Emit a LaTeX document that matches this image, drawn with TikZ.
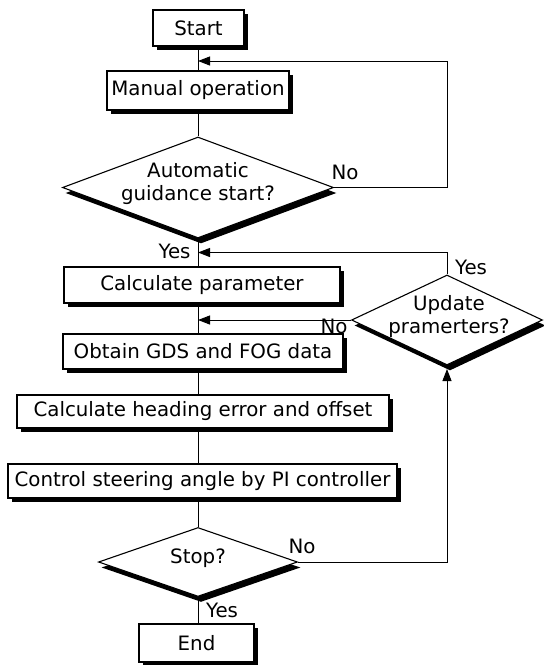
\documentclass[tikz,border=0pt]{standalone}
\usepackage{fontspec}
\setmainfont{DejaVu Sans}
\usetikzlibrary{shapes.geometric,shadows,arrows.meta}
\begin{document}
\begin{tikzpicture}[x=1pt,y=-1pt,
  font=\fontsize{19.8}{23}\selectfont,
  shad/.style={drop shadow={shadow xshift=3.5pt,shadow yshift=-3.5pt,fill=black,opacity=1}},
  dshad/.style={drop shadow={shadow xshift=3pt,shadow yshift=-5.5pt,fill=black,opacity=1}},
  stepbox/.style={draw=black,line width=1.2pt,fill=white,rectangle,inner sep=0pt,shad},
  decision/.style={draw=black,line width=1.1pt,fill=white,diamond,inner sep=0pt,dshad},
  dtext/.style={align=center,inner sep=0pt},
  lbl/.style={inner sep=0pt},
  conn/.style={line width=1pt},
  arr/.style={line width=1pt,-{Triangle[length=12pt,width=9pt]}}]
\useasboundingbox (0,0) rectangle (544,665);
\fill[white] (0,0) rectangle (544,665);
\coordinate (m) at (198,0);
% boxes
\node[stepbox,minimum width=91pt,minimum height=36pt] (start) at (198.5,28) {Start};
\node[stepbox,minimum width=182pt,minimum height=39pt] (manual) at (198,90.5) {Manual operation};
\node[decision,minimum width=271pt,minimum height=101pt] (d1) at (198,187.5) {};
\node[dtext] (d1t) at (198,183.5) {Automatic\\guidance start?};
\node[stepbox,minimum width=276pt,minimum height=36pt] (calc) at (202,285) {Calculate parameter};
\node[decision,minimum width=191pt,minimum height=90pt] (d2) at (447,320) {};
\node[dtext] (d2t) at (449,316.5) {Update\\pramerters?};
\node[stepbox,minimum width=280pt,minimum height=35pt] (obtain) at (203,351.5) {Obtain GDS and FOG data};
\node[stepbox,minimum width=372pt,minimum height=33pt] (heading) at (203,411.5) {Calculate heading error and offset};
\node[stepbox,minimum width=389pt,minimum height=34pt] (control) at (202.5,481) {Control steering angle by PI controller};
\node[decision,minimum width=199pt,minimum height=69pt] (stop) at (198,562) {};
\node[dtext] (stopt) at (198,558) {Stop?};
\node[stepbox,minimum width=115pt,minimum height=38pt] (end) at (196.5,643) {End};
% main line
\draw[conn] (start.south -| m) -- (manual.north -| m);
\draw[conn] (manual.south -| m) -- (d1.north);
\draw[conn] (d1.south) -- (calc.north -| m);
\draw[conn] (calc.south -| m) -- (obtain.north -| m);
\draw[conn] (obtain.south -| m) -- (heading.north -| m);
\draw[conn] (heading.south -| m) -- (control.north -| m);
\draw[conn] (control.south -| m) -- (stop.north);
\draw[conn] (stop.south) -- (end.north -| m);
% loops
\coordinate (j1) at (198,61);
\coordinate (c1) at (447.7,61);
\draw[arr] (d1.east) -| (c1) -- (j1);
\coordinate (j2) at (198,252.5);
\draw[arr] (d2.north) |- (j2);
\coordinate (j3) at (198,320);
\draw[arr] (d2.west) -- (j3);
\coordinate (j4) at (447,369);
\coordinate (c4) at (447,562);
\draw[arr] (stop.east) -- (c4) -- (j4);
% labels
\node[lbl] (l1) at (345,172) {No};
\node[lbl] (l2) at (174.5,251) {Yes};
\node[lbl] (l3) at (471,267.5) {Yes};
\node[lbl] (l4) at (334,326) {No};
\node[lbl] (l5) at (302,546) {No};
\node[lbl] (l6) at (222,610) {Yes};
\end{tikzpicture}
\end{document}
